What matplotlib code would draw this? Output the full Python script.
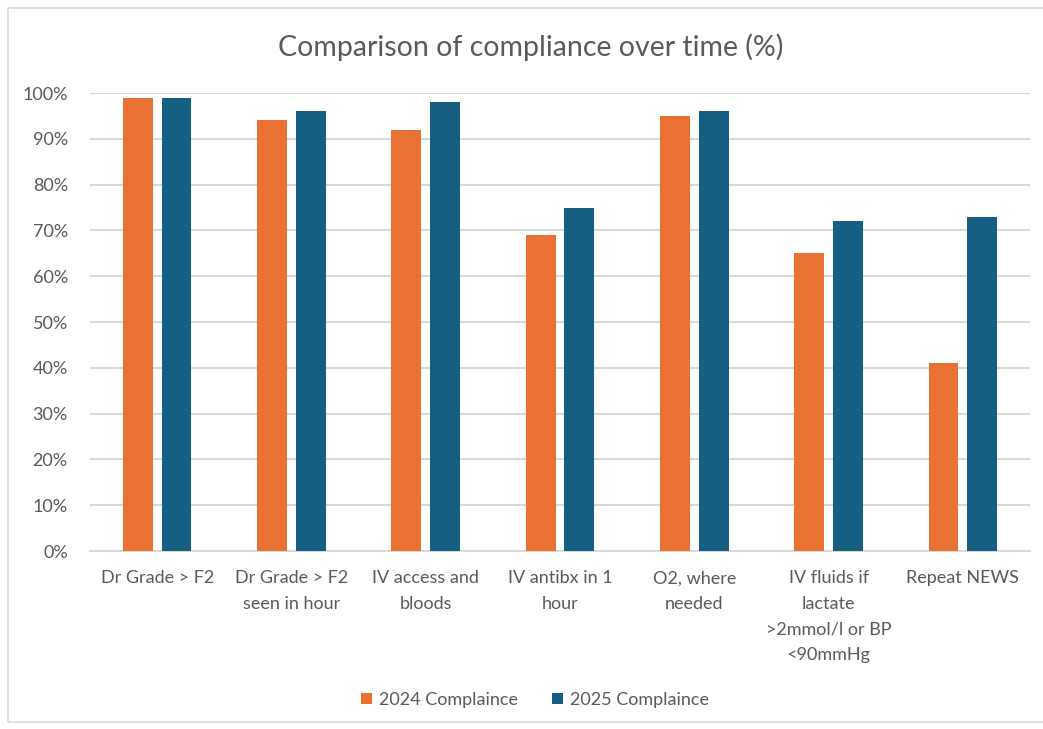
import matplotlib
matplotlib.use("Agg")
import matplotlib.pyplot as plt
from matplotlib.patches import Rectangle
from matplotlib.ticker import PercentFormatter
import numpy as np

categories = [
    "Dr Grade > F2",
    "Dr Grade > F2\nseen in hour",
    "IV access and\nbloods",
    "IV antibx in 1\nhour",
    "O2, where\nneeded",
    "IV fluids if\nlactate\n>2mmol/l or BP\n<90mmHg",
    "Repeat NEWS",
]
compliance_2024 = [99, 94, 92, 69, 95, 65, 41]
compliance_2025 = [99, 96, 98, 75, 96, 72, 73]
series_labels = ["2024 Complaince", "2025 Complaince"]
y_ticks = list(range(0, 101, 10))

orange = "#E97132"
blue = "#156082"
text_col = "#595959"
grid_col = "#D9D9D9"

plt.rcParams["font.family"] = ["Lato", "DejaVu Sans"]

W, H = 1043, 729
fig = plt.figure(figsize=(W / 100, H / 100), dpi=100)

# chart frame
fig.patches.append(Rectangle((8 / W, 7 / H), (W + 10) / W, (H - 15) / H,
                             transform=fig.transFigure, fill=False,
                             edgecolor="#D9D9D9", linewidth=1.2))

ax = fig.add_axes([90 / W, 1 - 551 / H, 940 / W, (551 - 93) / H])

x = np.arange(len(categories))
bw = 0.222
gap = 0.066
off = (bw + gap) / 2
ax.bar(x - off, compliance_2024, bw, color=orange, label=series_labels[0], zorder=3)
ax.bar(x + off, compliance_2025, bw, color=blue, label=series_labels[1], zorder=3)

ax.set_xlim(-0.5, len(categories) - 0.5)
ax.set_ylim(0, 100)
ax.set_yticks(y_ticks)
ax.yaxis.set_major_formatter(PercentFormatter(decimals=0))
ax.grid(axis="y", color=grid_col, linewidth=1.5, zorder=0)
for s in ["top", "right", "left"]:
    ax.spines[s].set_visible(False)
ax.spines["bottom"].set_color(grid_col)
ax.spines["bottom"].set_linewidth(1.5)
ax.tick_params(axis="both", length=0, colors=text_col, labelsize=13)
ax.tick_params(axis="y", pad=16)
ax.tick_params(axis="x", pad=14)
ax.set_xticks(x)
ax.set_xticklabels(categories, linespacing=1.72)

fig.text(531 / W, 1 - 47 / H, "Comparison of compliance over time (%)",
         ha="center", va="center", fontsize=20.5, color=text_col)

leg = fig.legend(loc="center", bbox_to_anchor=(535 / W, 1 - 700 / H), ncol=2,
                 frameon=False, fontsize=13, handlelength=0.6, handleheight=0.6,
                 handletextpad=0.4, columnspacing=1.9)
for t in leg.get_texts():
    t.set_color(text_col)

fig.savefig("out.png", dpi=100)
